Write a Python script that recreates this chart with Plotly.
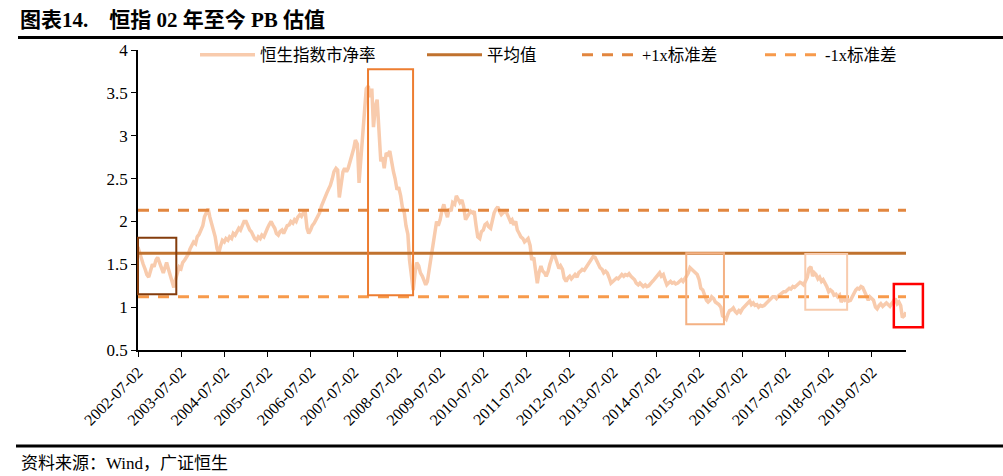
import pandas as pd
import plotly.graph_objects as go

# ---------------- data ----------------
# semi-monthly observations (1st and 15th of each month)
pb_2002 = [1.70, 1.63, 1.58, 1.50, 1.44, 1.38, 1.35, 1.42, 1.50, 1.47, 1.55, 1.58]
pb_2003 = [1.52, 1.45, 1.40, 1.46, 1.52, 1.45, 1.38, 1.30, 1.23, 1.32, 1.42, 1.47,
           1.45, 1.52, 1.55, 1.58, 1.62, 1.68, 1.72, 1.76, 1.74, 1.82, 1.85, 1.90]
pb_2004 = [1.95, 2.05, 2.12, 2.15, 2.05, 1.98, 1.90, 1.82, 1.68, 1.63, 1.72, 1.78,
           1.76, 1.80, 1.78, 1.82, 1.80, 1.86, 1.84, 1.88, 1.92, 1.90, 1.96, 2.00]
pb_2005 = [2.00, 1.95, 1.90, 1.88, 1.84, 1.80, 1.78, 1.82, 1.80, 1.84, 1.82, 1.88,
           1.92, 1.96, 2.00, 1.96, 1.92, 1.86, 1.84, 1.88, 1.90, 1.86, 1.92, 1.95]
pb_2006 = [1.96, 2.00, 1.98, 2.02, 2.00, 2.05, 2.08, 2.06, 2.10, 2.13, 1.92, 1.86,
           1.90, 1.95, 1.98, 2.02, 2.05, 2.10, 2.18, 2.22, 2.28, 2.33, 2.38, 2.42]
pb_2007 = [2.50, 2.58, 2.62, 2.60, 2.28, 2.45, 2.58, 2.62, 2.58, 2.62, 2.70, 2.80,
           2.85, 2.95, 2.90, 2.45, 2.80, 3.05, 3.30, 3.55, 3.58, 3.45, 3.55, 3.10]
pb_2008 = [3.35, 3.42, 2.95, 2.70, 2.75, 2.62, 2.80, 2.78, 2.82, 2.70, 2.58, 2.50,
           2.37, 2.40, 2.30, 2.17, 2.10, 1.95, 1.85, 1.55, 1.35, 1.20, 1.40, 1.52]
pb_2009 = [1.48, 1.40, 1.36, 1.32, 1.26, 1.30, 1.50, 1.58, 1.72, 1.85, 2.00, 1.95,
           2.02, 2.12, 2.20, 2.12, 2.05, 2.15, 2.12, 2.22, 2.20, 2.30, 2.26, 2.22]
pb_2010 = [2.25, 2.18, 2.02, 2.05, 2.08, 2.12, 2.10, 2.12, 1.95, 1.82, 1.80, 1.88,
           1.90, 1.96, 1.98, 1.94, 1.92, 2.02, 2.10, 2.14, 2.17, 2.12, 2.08, 2.10]
pb_2011 = [2.12, 2.10, 2.05, 2.00, 2.02, 1.96, 2.00, 1.90, 1.86, 1.82, 1.80, 1.76,
           1.78, 1.80, 1.72, 1.55, 1.58, 1.45, 1.28, 1.40, 1.48, 1.42, 1.40, 1.36]
pb_2012 = [1.42, 1.50, 1.58, 1.63, 1.58, 1.52, 1.45, 1.48, 1.44, 1.34, 1.30, 1.34,
           1.36, 1.33, 1.36, 1.38, 1.35, 1.40, 1.42, 1.44, 1.43, 1.46, 1.48, 1.52]
pb_2013 = [1.56, 1.59, 1.58, 1.54, 1.50, 1.46, 1.44, 1.40, 1.42, 1.40, 1.34, 1.28,
           1.30, 1.32, 1.34, 1.33, 1.36, 1.38, 1.36, 1.38, 1.37, 1.39, 1.36, 1.34]
pb_2014 = [1.32, 1.28, 1.26, 1.28, 1.26, 1.24, 1.26, 1.24, 1.25, 1.28, 1.30, 1.32,
           1.35, 1.37, 1.40, 1.36, 1.38, 1.32, 1.26, 1.28, 1.30, 1.28, 1.29, 1.27]
pb_2015 = [1.28, 1.30, 1.32, 1.30, 1.34, 1.36, 1.40, 1.46, 1.44, 1.42, 1.40, 1.38,
           1.32, 1.22, 1.20, 1.15, 1.08, 1.06, 1.08, 1.12, 1.10, 1.06, 1.05, 1.03]
pb_2016 = [1.00, 0.90, 0.88, 0.86, 0.92, 0.96, 0.97, 0.99, 0.95, 0.93, 0.96, 0.94,
           0.98, 1.00, 1.03, 1.05, 1.07, 1.03, 1.05, 1.02, 1.03, 1.00, 1.02, 1.01]
pb_2017 = [1.02, 1.04, 1.06, 1.08, 1.10, 1.12, 1.12, 1.10, 1.13, 1.15, 1.17, 1.18,
           1.18, 1.20, 1.22, 1.21, 1.24, 1.23, 1.25, 1.27, 1.29, 1.28, 1.26, 1.30]
pb_2018 = [1.35, 1.45, 1.47, 1.36, 1.40, 1.38, 1.33, 1.35, 1.30, 1.32, 1.28, 1.24,
           1.18, 1.20, 1.18, 1.14, 1.15, 1.12, 1.14, 1.06, 1.10, 1.08, 1.10, 1.07]
pb_2019 = [1.08, 1.12, 1.18, 1.20, 1.22, 1.21, 1.24, 1.23, 1.18, 1.12, 1.08, 1.12,
           1.10, 1.08, 1.00, 0.98, 1.02, 1.04, 1.01, 1.03, 1.05, 1.03, 1.01, 1.04]
pb_2020 = [1.08, 1.10, 1.04, 1.06, 1.02, 0.88, 0.90, 0.94]

pb_values = (pb_2002 + pb_2003 + pb_2004 + pb_2005 + pb_2006 + pb_2007 + pb_2008 +
             pb_2009 + pb_2010 + pb_2011 + pb_2012 + pb_2013 + pb_2014 + pb_2015 +
             pb_2016 + pb_2017 + pb_2018 + pb_2019 + pb_2020)
pb_dates = pd.date_range("2002-07-01", "2020-04-15", freq="SMS")
n = min(len(pb_dates), len(pb_values))
pb_dates, pb_values = pb_dates[:n], pb_values[:n]

mean_pb = 1.63
plus_1sd = 2.13
minus_1sd = 1.12

x_start, x_end = "2002-07-02", "2020-04-15"
tick_labels = [f"{y}-07-02" for y in range(2002, 2020)]
y_ticks = [0.5, 1, 1.5, 2, 2.5, 3, 3.5, 4]

# highlighted periods: (start date, end date, low PB, high PB, colour, width)
box_starts = ["2002-07-02", "2007-10-30", "2015-03-14", "2017-12-15", "2020-01-03"]
box_ends = ["2003-05-22", "2008-11-14", "2016-01-27", "2018-12-04", "2020-09-05"]
box_lows = [1.15, 1.14, 0.80, 0.97, 0.765]
box_highs = [1.81, 3.775, 1.63, 1.62, 1.27]
box_colors = ["#843C0C", "#ED7D31", "#F4B183", "#F8CBAD", "#FF0000"]
box_widths = [2, 2, 2, 2, 2.5]

names = ["恒生指数市净率", "平均值", "+1x标准差", "-1x标准差"]
NB = "\u00a0"
title_text = f"图表14.{NB*4}恒指{NB}02{NB}年至今{NB}PB{NB}估值"
source_text = "资料来源：Wind，广证恒生"

# ---------------- layout geometry ----------------
W, H = 1003, 476
L, R, T, B = 138, 97, 50, 126
PW, PH = W - L - R, H - T - B


def px(x):
    return (x - L) / PW


def py(y):
    return (H - B - y) / PH


t0, t1 = pd.Timestamp(x_start), pd.Timestamp(x_end)


def frac(d):
    return (pd.Timestamp(d) - t0) / (t1 - t0)


SERIF = "Liberation Serif, Times New Roman, Noto Sans CJK SC"

fig = go.Figure()
fig.add_trace(go.Scatter(x=pb_dates, y=pb_values, mode="lines", name=names[0],
                         line=dict(color="#F8CBAD", width=3.5), legend="legend"))
fig.add_trace(go.Scatter(x=[x_start, x_end], y=[mean_pb, mean_pb], mode="lines",
                         name=names[1], line=dict(color="#C0722E", width=3),
                         legend="legend2"))
fig.add_trace(go.Scatter(x=[x_start, x_end], y=[plus_1sd, plus_1sd], mode="lines",
                         name=names[2],
                         line=dict(color="#E2863F", width=3, dash="11px,9px"),
                         legend="legend3"))
fig.add_trace(go.Scatter(x=[x_start, x_end], y=[minus_1sd, minus_1sd], mode="lines",
                         name=names[3],
                         line=dict(color="#F79A4B", width=3, dash="11px,9px"),
                         legend="legend4"))

shapes = []
for s, e, lo, hi, c, w in zip(box_starts, box_ends, box_lows, box_highs,
                              box_colors, box_widths):
    shapes.append(dict(type="rect", xref="paper", yref="y", x0=frac(s), x1=frac(e),
                       y0=lo, y1=hi, line=dict(color=c, width=w),
                       fillcolor="rgba(0,0,0,0)", layer="above"))
# title and source rules
shapes.append(dict(type="line", xref="paper", yref="paper", x0=px(18), x1=px(1003),
                   y0=py(37.5), y1=py(37.5), line=dict(color="black", width=3)))
shapes.append(dict(type="line", xref="paper", yref="paper", x0=px(16), x1=px(1003),
                   y0=py(446), y1=py(446), line=dict(color="black", width=3)))

legend_font = dict(family=SERIF, size=16.5, color="#000000")
legend_x = [195, 422, 577, 760]


def leg(xp):
    return dict(x=px(xp), y=py(55), xanchor="left", yanchor="middle",
                orientation="h", font=legend_font, bgcolor="rgba(0,0,0,0)",
                itemwidth=55)


fig.update_layout(
    width=W, height=H,
    margin=dict(l=L, r=R, t=T, b=B),
    paper_bgcolor="white", plot_bgcolor="white",
    showlegend=True,
    legend=leg(legend_x[0]), legend2=leg(legend_x[1]),
    legend3=leg(legend_x[2]), legend4=leg(legend_x[3]),
    shapes=shapes,
    annotations=[
        dict(text="<b>" + title_text + "</b>", xref="paper", yref="paper",
             x=px(18), y=py(20), xanchor="left", yanchor="middle", showarrow=False,
             font=dict(family=SERIF, size=21, color="#000000")),
        dict(text=source_text, xref="paper", yref="paper", x=px(19), y=py(463),
             xanchor="left", yanchor="middle", showarrow=False,
             font=dict(family=SERIF, size=17, color="#000000")),
    ],
    xaxis=dict(type="date", range=[x_start, x_end], tickmode="array",
               tickvals=tick_labels, ticktext=tick_labels, tickangle=-45,
               ticks="outside", ticklen=5, tickcolor="#000000",
               showline=True, linecolor="#000000", linewidth=1.5,
               showgrid=False, zeroline=False,
               tickfont=dict(family=SERIF, size=16, color="#000000")),
    yaxis=dict(range=[0.5, 4], tickmode="array", tickvals=y_ticks,
               ticks="outside", ticklen=5, tickcolor="#000000",
               showline=True, linecolor="#000000", linewidth=1.5,
               showgrid=False, zeroline=False,
               tickfont=dict(family=SERIF, size=17, color="#000000")),
)

fig.write_html("out.html")
